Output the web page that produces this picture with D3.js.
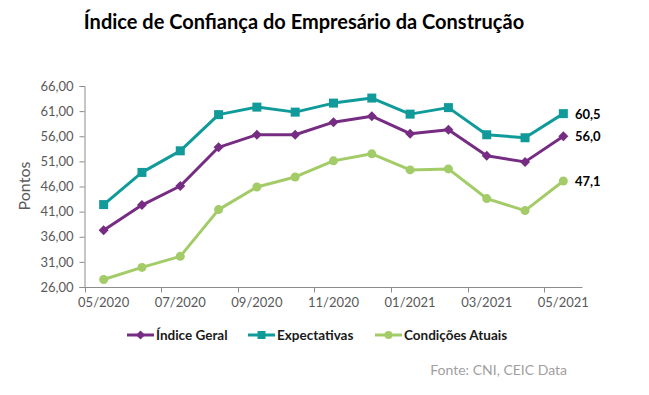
<!DOCTYPE html>
<html>
<head>
<meta charset="utf-8">
<script src="https://cdn.jsdelivr.net/npm/d3@7"></script>
<style>
  body { margin: 0; background: #fff; }
  text { font-family: Lato, "Open Sans", sans-serif; }
</style>
</head>
<body>
<svg id="app" width="649" height="395"></svg>
<script>
const months = ['05/2020','06/2020','07/2020','08/2020','09/2020','10/2020','11/2020','12/2020','01/2021','02/2021','03/2021','04/2021','05/2021']
const indiceGeral = [37.3, 42.3, 46.1, 53.8, 56.3, 56.3, 58.8, 60.0, 56.5, 57.3, 52.1, 50.9, 56.0]
const expectativas = [42.4, 48.8, 53.1, 60.3, 61.8, 60.8, 62.6, 63.6, 60.4, 61.7, 56.3, 55.7, 60.5]
const condicoes = [27.5, 29.9, 32.1, 41.4, 45.9, 47.9, 51.1, 52.5, 49.3, 49.5, 43.6, 41.2, 47.1]
const yTicks = [26, 31, 36, 41, 46, 51, 56, 61, 66]
const seriesNames = ['Índice Geral', 'Expectativas', 'Condições Atuais']

const purple = '#772c83'
const teal = '#109a9a'
const green = '#a3cc68'
const axisColor = '#8c8c8c'
const labelColor = '#595959'

let svg = d3.select('#app')

const plotLeft = 84.5, plotRight = 582.5, plotTop = 86, plotBottom = 287

let x = d3.scaleBand().domain(months).range([plotLeft, plotRight])
let y = d3.scaleLinear().domain([26, 66]).range([plotBottom, plotTop])

const series = [
  {name: seriesNames[0], values: indiceGeral, color: purple, marker: 'diamond'},
  {name: seriesNames[1], values: expectativas, color: teal, marker: 'square'},
  {name: seriesNames[2], values: condicoes, color: green, marker: 'circle'},
]

// title
svg.append('text')
.attr('x', 304)
.attr('y', 29)
.attr('text-anchor', 'middle')
.attr('font-size', 20)
.attr('font-weight', 'bold')
.attr('fill', '#000')
.text('Índice de Confiança do Empresário da Construção')

// y axis
let yAxis = svg.append('g')
.attr('transform', `translate(${plotLeft},0)`)
.call(d3.axisLeft(y).tickValues(yTicks).tickSize(5).tickPadding(6)
  .tickFormat(d => d3.format('.2f')(d).replace('.', ',')))
yAxis.select('.domain').attr('stroke', axisColor)
yAxis.selectAll('.tick line').attr('stroke', axisColor)
yAxis.selectAll('.tick text')
.attr('fill', labelColor)
.attr('font-size', 13)
.attr('font-family', 'Lato, sans-serif')

// x axis: ticks on every other category boundary
let xAxisG = svg.append('g').attr('transform', `translate(0,${plotBottom + 0.5})`)
xAxisG.append('line')
.attr('x1', plotLeft).attr('x2', plotRight)
.attr('stroke', axisColor)
xAxisG.selectAll('line.tk')
.data(months.filter((m, i) => i % 2 === 0))
.enter()
.append('line')
.attr('class', 'tk')
.attr('x1', d => Math.round(x(d)) + 0.5)
.attr('x2', d => Math.round(x(d)) + 0.5)
.attr('y1', 0).attr('y2', 5)
.attr('stroke', axisColor)
xAxisG.selectAll('text')
.data(months.filter((m, i) => i % 2 === 0))
.enter()
.append('text')
.attr('x', d => x(d) + x.bandwidth() / 2)
.attr('y', 19)
.attr('text-anchor', 'middle')
.attr('font-size', 13)
.attr('fill', labelColor)
.text(d => d)

// y title
svg.append('text')
.attr('transform', 'translate(30,186) rotate(-90)')
.attr('text-anchor', 'middle')
.attr('font-size', 16)
.attr('fill', labelColor)
.text('Pontos')

function drawMarker(g, type, color, cx, cy, s) {
  if (type === 'diamond') {
    g.append('path')
    .attr('d', `M${cx},${cy - s} L${cx + s},${cy} L${cx},${cy + s} L${cx - s},${cy} Z`)
    .attr('fill', color)
  } else if (type === 'square') {
    g.append('rect')
    .attr('x', cx - s).attr('y', cy - s)
    .attr('width', 2 * s).attr('height', 2 * s)
    .attr('fill', color)
  } else {
    g.append('circle')
    .attr('cx', cx).attr('cy', cy).attr('r', s)
    .attr('fill', color)
  }
}

let line = d3.line()
.x((d, i) => x(months[i]) + x.bandwidth() / 2)
.y(d => y(d))

let plotG = svg.append('g')
series.forEach(s => {
  plotG.append('path')
  .datum(s.values)
  .attr('d', line)
  .attr('fill', 'none')
  .attr('stroke', s.color)
  .attr('stroke-width', 3)
  .attr('stroke-linejoin', 'round')
  s.values.forEach((v, i) => {
    drawMarker(plotG, s.marker, s.color, x(months[i]) + x.bandwidth() / 2, y(v), s.marker === 'diamond' ? 5 : 4.5)
  })
  // end label
  const last = s.values[s.values.length - 1]
  plotG.append('text')
  .attr('x', 575)
  .attr('y', y(last) + 5)
  .attr('font-size', 13)
  .attr('font-weight', 'bold')
  .attr('fill', '#000')
  .text(d3.format('.1f')(last).replace('.', ','))
})

// legend
const legendX = [127, 248, 375]
let legend = svg.append('g')
series.forEach((s, i) => {
  const lx = legendX[i], ly = 335
  legend.append('line')
  .attr('x1', lx).attr('x2', lx + 27)
  .attr('y1', ly).attr('y2', ly)
  .attr('stroke', s.color)
  .attr('stroke-width', 3)
  drawMarker(legend, s.marker, s.color, lx + 13.5, ly, s.marker === 'diamond' ? 4.5 : 4)
  legend.append('text')
  .attr('x', lx + 29)
  .attr('y', ly + 5)
  .attr('font-size', 13.5)
  .attr('font-weight', 'bold')
  .attr('fill', '#1a1a1a')
  .text(s.name)
})

// source
svg.append('text')
.attr('x', 567)
.attr('y', 375)
.attr('text-anchor', 'end')
.attr('font-size', 14)
.attr('fill', '#a0a0a0')
.text('Fonte: CNI, CEIC Data')
</script>
</body>
</html>
